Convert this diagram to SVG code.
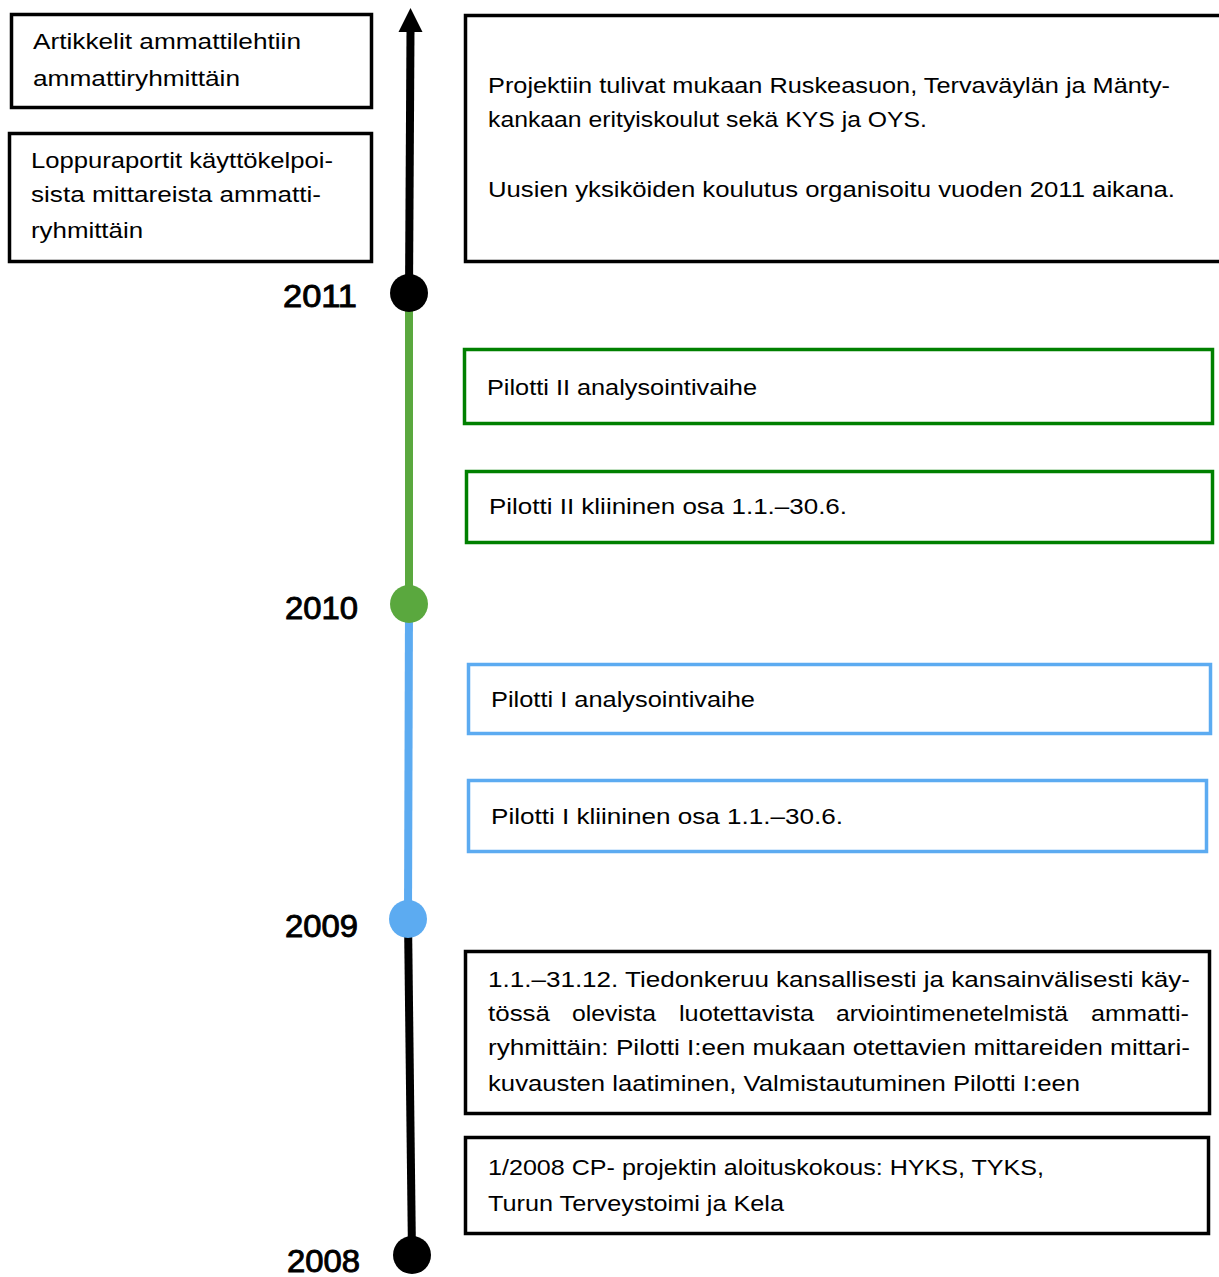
<svg xmlns="http://www.w3.org/2000/svg" width="1219" height="1277" viewBox="0 0 1219 1277">
<defs>
<style>
.bg{fill:#ffffff}
.box{fill:#ffffff;stroke:#000000;stroke-width:3.5}
.gbox{fill:#ffffff;stroke:#008000;stroke-width:3.5}
.bbox{fill:#ffffff;stroke:#5CABF1;stroke-width:3.5}
.t{font-family:"Liberation Sans",Arial,sans-serif;font-size:22px;fill:#000000}
.yr{font-family:"Liberation Sans",Arial,sans-serif;font-size:31px;fill:#000000;stroke:#000000;stroke-width:0.9}
.lk{stroke:#000000;stroke-width:8;fill:none}
.lg{stroke:#5AA83E;stroke-width:8;fill:none}
.lb{stroke:#5CABF1;stroke-width:8;fill:none}
</style>
</defs>
<rect class="bg" x="0" y="0" width="1219" height="1277"/>

<g id="connectors">
<line class="lk" x1="409" y1="293" x2="410.5" y2="30"/>
<path d="M398.5,32 L410.5,8 L422.5,32 Z" fill="#000000"/>
<line class="lg" x1="409" y1="293" x2="409" y2="604"/>
<line class="lb" x1="409" y1="604" x2="408" y2="919"/>
<line class="lk" x1="408" y1="919" x2="412" y2="1255"/>
</g>

<g id="year-2011">
<circle cx="409" cy="293" r="19" fill="#000000"/>
<text class="yr" x="283" y="307" textLength="74" lengthAdjust="spacingAndGlyphs">2011</text>
</g>
<g id="year-2010">
<circle cx="409" cy="604" r="19" fill="#5AA83E"/>
<text class="yr" x="285" y="619" textLength="73" lengthAdjust="spacingAndGlyphs">2010</text>
</g>
<g id="year-2009">
<circle cx="408" cy="919" r="19" fill="#5CABF1"/>
<text class="yr" x="285" y="937" textLength="73" lengthAdjust="spacingAndGlyphs">2009</text>
</g>
<g id="year-2008">
<circle cx="412" cy="1255" r="19" fill="#000000"/>
<text class="yr" x="287" y="1272" textLength="73" lengthAdjust="spacingAndGlyphs">2008</text>
</g>

<g id="node-artikkelit">
<rect class="box" x="11.5" y="14.5" width="360" height="93"/>
<text class="t" x="33" y="49" textLength="268" lengthAdjust="spacingAndGlyphs">Artikkelit ammattilehtiin</text>
<text class="t" x="33" y="86" textLength="207" lengthAdjust="spacingAndGlyphs">ammattiryhmittäin</text>
</g>

<g id="node-loppuraportit">
<rect class="box" x="9.5" y="133.5" width="362" height="128"/>
<text class="t" x="31" y="168" textLength="302" lengthAdjust="spacingAndGlyphs">Loppuraportit käyttökelpoi-</text>
<text class="t" x="31" y="202" textLength="290" lengthAdjust="spacingAndGlyphs">sista mittareista ammatti-</text>
<text class="t" x="31" y="238" textLength="112" lengthAdjust="spacingAndGlyphs">ryhmittäin</text>
</g>

<g id="node-projektiin">
<rect class="box" x="465.5" y="15.5" width="760" height="246"/>
<text class="t" x="488" y="93" textLength="682" lengthAdjust="spacingAndGlyphs">Projektiin tulivat mukaan Ruskeasuon, Tervaväylän ja Mänty-</text>
<text class="t" x="488" y="127" textLength="439" lengthAdjust="spacingAndGlyphs">kankaan erityiskoulut sekä KYS ja OYS.</text>
<text class="t" x="488" y="197" textLength="687" lengthAdjust="spacingAndGlyphs">Uusien yksiköiden koulutus organisoitu vuoden 2011 aikana.</text>
</g>

<g id="node-pilotti2-analyysi">
<rect class="gbox" x="464.5" y="349.5" width="748" height="74"/>
<text class="t" x="487" y="395" textLength="270" lengthAdjust="spacingAndGlyphs">Pilotti II analysointivaihe</text>
</g>

<g id="node-pilotti2-kliininen">
<rect class="gbox" x="466.5" y="471.5" width="746" height="71"/>
<text class="t" x="489" y="514" textLength="358" lengthAdjust="spacingAndGlyphs">Pilotti II kliininen osa 1.1.–30.6.</text>
</g>

<g id="node-pilotti1-analyysi">
<rect class="bbox" x="468.5" y="664.5" width="742" height="69"/>
<text class="t" x="491" y="707" textLength="264" lengthAdjust="spacingAndGlyphs">Pilotti I analysointivaihe</text>
</g>

<g id="node-pilotti1-kliininen">
<rect class="bbox" x="468.5" y="780.5" width="738" height="71"/>
<text class="t" x="491" y="824" textLength="352" lengthAdjust="spacingAndGlyphs">Pilotti I kliininen osa 1.1.–30.6.</text>
</g>

<g id="node-tiedonkeruu">
<rect class="box" x="465.5" y="951.5" width="744" height="162"/>
<text class="t" x="488" y="987" textLength="702" lengthAdjust="spacingAndGlyphs">1.1.–31.12. Tiedonkeruu kansallisesti ja kansainvälisesti käy-</text>
<text class="t" x="488" y="1021" textLength="62" lengthAdjust="spacingAndGlyphs">tössä</text>
<text class="t" x="572" y="1021" textLength="84" lengthAdjust="spacingAndGlyphs">olevista</text>
<text class="t" x="679" y="1021" textLength="135" lengthAdjust="spacingAndGlyphs">luotettavista</text>
<text class="t" x="836" y="1021" textLength="232" lengthAdjust="spacingAndGlyphs">arviointimenetelmistä</text>
<text class="t" x="1091" y="1021" textLength="98" lengthAdjust="spacingAndGlyphs">ammatti-</text>
<text class="t" x="488" y="1055" textLength="702" lengthAdjust="spacingAndGlyphs">ryhmittäin: Pilotti I:een mukaan otettavien mittareiden mittari-</text>
<text class="t" x="488" y="1091" textLength="592" lengthAdjust="spacingAndGlyphs">kuvausten laatiminen, Valmistautuminen Pilotti I:een</text>
</g>

<g id="node-aloituskokous">
<rect class="box" x="465.5" y="1137.5" width="743" height="96"/>
<text class="t" x="488" y="1175" textLength="556" lengthAdjust="spacingAndGlyphs">1/2008 CP- projektin aloituskokous: HYKS, TYKS,</text>
<text class="t" x="488" y="1211" textLength="296" lengthAdjust="spacingAndGlyphs">Turun Terveystoimi ja Kela</text>
</g>
</svg>
